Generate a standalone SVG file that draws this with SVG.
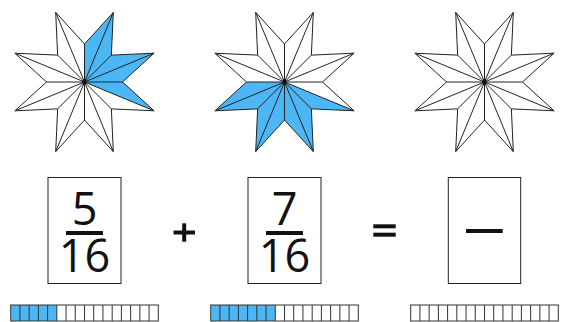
<svg xmlns="http://www.w3.org/2000/svg" xmlns:xlink="http://www.w3.org/1999/xlink" width="563" height="322" viewBox="0 0 563 322">
<style>
.line{fill:none;stroke:#222;stroke-width:1;stroke-linejoin:miter}
.shade{fill:#4DB6F5;stroke:none}
.box{fill:#fff;stroke:#222;stroke-width:1}
.num{font-family:"Open Sans","Noto Sans",sans-serif;font-size:45px;fill:#111;text-anchor:middle}
.op{fill:#111}
.cell{fill:none;stroke:#333;stroke-width:1}
</style>
<defs>
<g id="star">
<polygon class="line" points="0,-38 28.8,-69.6 26.87,-26.87 69.6,-28.8 38,0 69.6,28.8 26.87,26.87 28.8,69.6 0,38 -28.8,69.6 -26.87,26.87 -69.6,28.8 -38,0 -69.6,-28.8 -26.87,-26.87 -28.8,-69.6"/>
<path class="line" d="M0 0L0 -38M0 0L28.8 -69.6M0 0L26.87 -26.87M0 0L69.6 -28.8M0 0L38 0M0 0L69.6 28.8M0 0L26.87 26.87M0 0L28.8 69.6M0 0L0 38M0 0L-28.8 69.6M0 0L-26.87 26.87M0 0L-69.6 28.8M0 0L-38 0M0 0L-69.6 -28.8M0 0L-26.87 -26.87M0 0L-28.8 -69.6"/>
<circle cx="0" cy="0" r="2.3" fill="#111"/>
</g>
<g id="bar">
<rect class="cell" x="0" y="0" width="147.6" height="16"/>
<path class="cell" d="M9.225 0V16M18.45 0V16M27.675 0V16M36.9 0V16M46.125 0V16M55.35 0V16M64.575 0V16M73.8 0V16M83.025 0V16M92.25 0V16M101.475 0V16M110.7 0V16M119.925 0V16M129.15 0V16M138.375 0V16"/>
</g>
</defs>

<g id="star1" transform="translate(84.5,82)">
<polygon class="shade" points="0,0 0,-38 28.8,-69.6 26.87,-26.87 69.6,-28.8 38,0 69.6,28.8"/>
<use xlink:href="#star"/>
</g>
<g id="star2" transform="translate(284.5,82)">
<polygon class="shade" points="0,0 69.6,28.8 26.87,26.87 28.8,69.6 0,38 -28.8,69.6 -26.87,26.87 -69.6,28.8 -38,0"/>
<use xlink:href="#star"/>
</g>
<g id="star3" transform="translate(484.5,82)">
<use xlink:href="#star"/>
</g>

<g id="frac1">
<rect class="box" x="48" y="177.5" width="73" height="106"/>
<text class="num" x="84.5" y="224.5">5</text>
<rect x="66" y="231" width="37" height="4" fill="#111"/>
<text class="num" x="84.5" y="272">16</text>
</g>
<g id="plus">
<rect class="op" x="173.5" y="230.5" width="21.5" height="4"/>
<rect class="op" x="182.2" y="223.3" width="4" height="18.4"/>
</g>
<g id="frac2">
<rect class="box" x="248" y="177.5" width="73" height="106"/>
<text class="num" x="284.5" y="224.5">7</text>
<rect x="266" y="231" width="37" height="4" fill="#111"/>
<text class="num" x="284.5" y="272">16</text>
</g>
<g id="equals">
<rect class="op" x="373.3" y="224.3" width="22.4" height="4"/>
<rect class="op" x="373.3" y="232.7" width="22.4" height="4"/>
</g>
<g id="frac3">
<rect class="box" x="448.3" y="177.5" width="72.4" height="106"/>
<rect x="466" y="229" width="36.7" height="4" fill="#111"/>
</g>

<g id="bar1" transform="translate(10.7,305)">
<rect class="shade" x="0" y="0" width="46.125" height="16"/>
<use xlink:href="#bar"/>
</g>
<g id="bar2" transform="translate(210.7,305)">
<rect class="shade" x="0" y="0" width="64.575" height="16"/>
<use xlink:href="#bar"/>
</g>
<g id="bar3" transform="translate(410.7,305)">
<use xlink:href="#bar"/>
</g>
</svg>
